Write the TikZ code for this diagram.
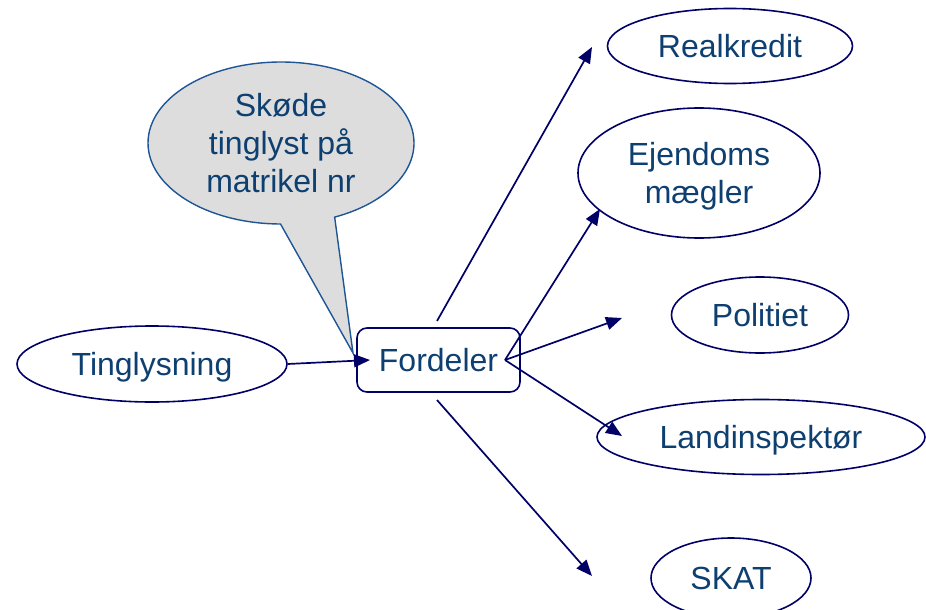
\documentclass[tikz,border=0pt]{standalone}
\usepackage{fontspec}
\setmainfont{Liberation Sans}
\usetikzlibrary{
  shapes.geometric,
  shapes.callouts,
  arrows.meta
}
\definecolor{linenavy}{HTML}{000066}
\definecolor{textblue}{HTML}{0D3F70}
\definecolor{calloutblue}{HTML}{1F5596}
\definecolor{calloutgray}{HTML}{DDDDDD}

\begin{document}
\begin{tikzpicture}[
    x=1pt, y=-1pt,
    every node/.style={font=\fontsize{32}{38}\selectfont, text=textblue,
      align=center, text depth=0pt},
    oval/.style={
      ellipse, draw=linenavy, line width=1.6pt, inner sep=0pt
    },
    hubbox/.style={
      rectangle, draw=linenavy, line width=1.6pt, rounded corners=10pt,
      minimum width=163pt, minimum height=64pt
    },
    bubble/.style={
      ellipse callout, draw=calloutblue, fill=calloutgray,
      line width=1.4pt, inner sep=0pt, callout pointer arc=24
    },
    arrow/.style={-{Triangle[length=16pt,width=13pt]}, draw=linenavy, line width=1.7pt},
  ]
  \useasboundingbox (0,0) rectangle (926,610);

  % --- Nodes ---
  \node[oval, minimum width=270pt, minimum height=76pt] (ting) at (152,364) {Tinglysning};
  \node[hubbox] (fordeler) at (438.5,360) {Fordeler};
  \node[bubble, minimum width=266pt, minimum height=162pt,
    callout absolute pointer={(353,353)}] (skoede) at (281,143)
    {Skøde\\tinglyst på\\matrikel nr};

  \node[oval, minimum width=245pt, minimum height=75pt] (realkredit) at (730,46) {Realkredit};
  \node[oval, minimum width=242pt, minimum height=130pt] (maegler) at (699,173) {Ejendoms\\mægler};
  \node[oval, minimum width=177pt, minimum height=76pt] (politi) at (760,315) {Politiet};
  \node[oval, minimum width=328pt, minimum height=75pt] (landinsp) at (761,437) {Landinspektør};
  \node[oval, minimum width=160pt, minimum height=80pt] (skat) at (731,578) {SKAT};

  % --- Arrow end points ---
  \coordinate (fordelerin) at (370,360);
  \coordinate (hub) at (505,360);
  \coordinate (upstart) at (437,321);
  \coordinate (downstart) at (437,400);
  \coordinate (realtip) at (592,47);
  \coordinate (maeglertip) at (600,209);
  \coordinate (politip) at (622,318);
  \coordinate (landtip) at (622,436);
  \coordinate (skattip) at (592,576);

  % --- Arrows ---
  \draw[arrow] (ting.east) -- (fordelerin);
  \draw[arrow] (upstart) -- (realtip);
  \draw[arrow] (hub) -- (maeglertip);
  \draw[arrow] (hub) -- (politip);
  \draw[arrow] (hub) -- (landtip);
  \draw[arrow] (downstart) -- (skattip);
\end{tikzpicture}
\end{document}
